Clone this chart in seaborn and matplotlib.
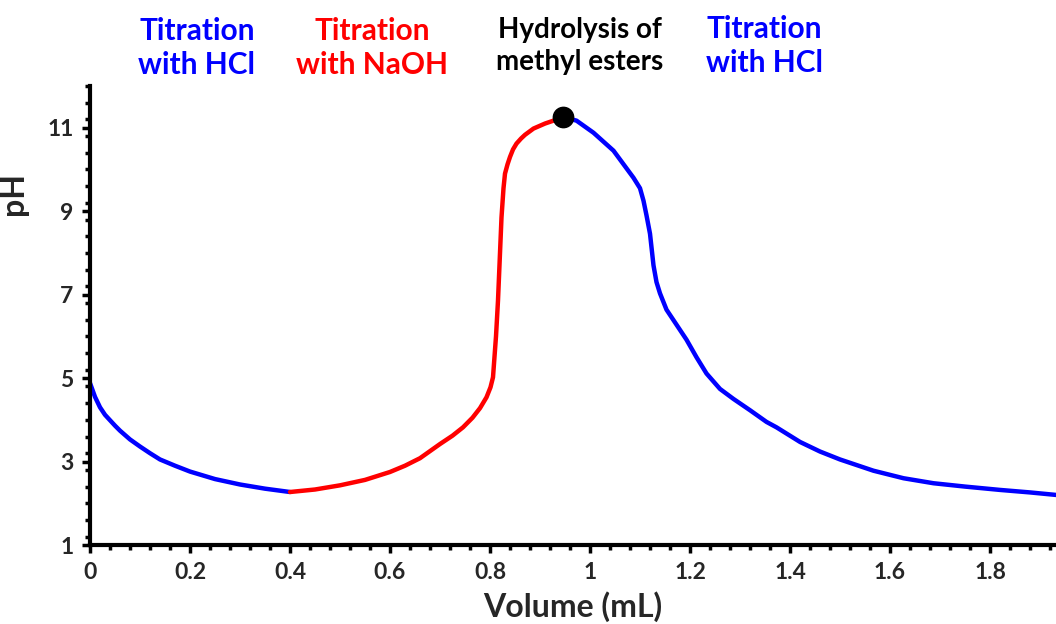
import numpy as np
import pandas as pd
import matplotlib
matplotlib.use("Agg")
import matplotlib.pyplot as plt
import seaborn as sns
from matplotlib.ticker import MultipleLocator

# ---- data ----
hcl1_vol = [0, 0.01, 0.02, 0.03, 0.04, 0.05, 0.06, 0.08, 0.1, 0.12, 0.14, 0.17, 0.2, 0.25, 0.3, 0.35, 0.4]
hcl1_ph = [4.88, 4.55, 4.3, 4.12, 3.99, 3.86, 3.74, 3.53, 3.36, 3.2, 3.05, 2.9, 2.76, 2.58, 2.45, 2.35, 2.27]

naoh_vol = [0.4, 0.45, 0.5, 0.55, 0.6, 0.63, 0.66, 0.7, 0.725, 0.746, 0.765, 0.78, 0.793, 0.801, 0.806, 0.812,
            0.816, 0.823, 0.827, 0.83, 0.835, 0.84, 0.846, 0.853, 0.862, 0.87, 0.887, 0.91, 0.927, 0.945]
naoh_ph = [2.27, 2.33, 2.43, 2.56, 2.75, 2.9, 3.08, 3.42, 3.62, 3.82, 4.05, 4.28, 4.54, 4.78, 5.02, 6.0,
           6.86, 8.85, 9.55, 9.9, 10.12, 10.3, 10.48, 10.62, 10.74, 10.83, 10.98, 11.1, 11.17, 11.26]

hcl2_vol = [0.945, 0.973, 1.007, 1.047, 1.087, 1.1, 1.107, 1.113, 1.12, 1.127, 1.133, 1.14, 1.153,
            1.173, 1.193, 1.213, 1.233, 1.26, 1.287, 1.32, 1.353, 1.373, 1.42, 1.46, 1.5, 1.567,
            1.627, 1.687, 1.75, 1.82, 1.88, 1.932]
hcl2_ph = [11.26, 11.17, 10.88, 10.45, 9.80, 9.55, 9.25, 8.9, 8.46, 7.7, 7.3, 7.03, 6.64,
           6.28, 5.92, 5.5, 5.11, 4.74, 4.5, 4.23, 3.95, 3.82, 3.47, 3.24, 3.05, 2.78,
           2.6, 2.48, 2.4, 2.32, 2.26, 2.20]

peak_vol = [0.945]
peak_ph = [11.26]

x_ticks = [0, 0.2, 0.4, 0.6, 0.8, 1.0, 1.2, 1.4, 1.6, 1.8]
x_tick_labels = ["0", "0.2", "0.4", "0.6", "0.8", "1", "1.2", "1.4", "1.6", "1.8"]
y_ticks = [1, 3, 5, 7, 9, 11]

labels = ["Titration\nwith HCl", "Titration\nwith NaOH", "Hydrolysis of\nmethyl esters", "Titration\nwith HCl"]

# ---- style ----
sns.set_style("white")
plt.rcParams["font.family"] = ["Lato", "DejaVu Sans"]
plt.rcParams["font.weight"] = "bold"
plt.rcParams["lines.solid_joinstyle"] = "round"
plt.rcParams["lines.solid_capstyle"] = "round"

fig = plt.figure(figsize=(10.56, 6.24), dpi=100)
W, H = 1056, 624
ax = fig.add_axes([90 / W, (H - 545) / H, (W - 90) / W, (545 - 86) / H])

blue = "#0000FF"
red = "#FF0000"
sns.lineplot(x=hcl1_vol, y=hcl1_ph, ax=ax, color=blue, linewidth=3.2, sort=False)
sns.lineplot(x=naoh_vol, y=naoh_ph, ax=ax, color=red, linewidth=3.2, sort=False)
sns.lineplot(x=hcl2_vol, y=hcl2_ph, ax=ax, color=blue, linewidth=3.2, sort=False)
sns.scatterplot(x=peak_vol, y=peak_ph, ax=ax, color="black", s=210, edgecolor="black", zorder=5)

ax.set_xlim(0, 1.932)
ax.set_ylim(1, 12)
ax.set_xticks(x_ticks)
ax.set_xticklabels(x_tick_labels)
ax.set_yticks(y_ticks)
ax.xaxis.set_minor_locator(MultipleLocator(0.04))
ax.yaxis.set_minor_locator(MultipleLocator(0.4))

for s in ["top", "right"]:
    ax.spines[s].set_visible(False)
for s in ["left", "bottom"]:
    ax.spines[s].set_linewidth(3)
    ax.spines[s].set_color("black")

ax.tick_params(axis="both", which="major", direction="out", length=6, width=2.5,
               color="black", labelsize=16.5, pad=6)
ax.tick_params(axis="both", which="minor", direction="out", length=3.5, width=2.5, color="black")
ax.tick_params(axis="both", which="both", bottom=True, left=True)
for lab in ax.get_xticklabels() + ax.get_yticklabels():
    lab.set_fontweight("bold")

ax.set_xlabel("Volume (mL)", fontsize=23, fontweight="bold", labelpad=6)
ax.set_ylabel("pH", fontsize=23, fontweight="bold")
ax.yaxis.set_label_coords(-0.064, 0.765)
ax.grid(False)

fig.text(197 / W, 1 - 48 / H, labels[0], color=blue, fontsize=21.5, fontweight="bold",
         ha="center", va="center", linespacing=1.3)
fig.text(372 / W, 1 - 48 / H, labels[1], color=red, fontsize=21.5, fontweight="bold",
         ha="center", va="center", linespacing=1.3)
fig.text(580 / W, 1 - 46 / H, labels[2], color="black", fontsize=20, fontweight="bold",
         ha="center", va="center", linespacing=1.25)
fig.text(764 / W, 1 - 46 / H, labels[3], color=blue, fontsize=21.5, fontweight="bold",
         ha="center", va="center", linespacing=1.3)

fig.savefig("out.png", dpi=100)
